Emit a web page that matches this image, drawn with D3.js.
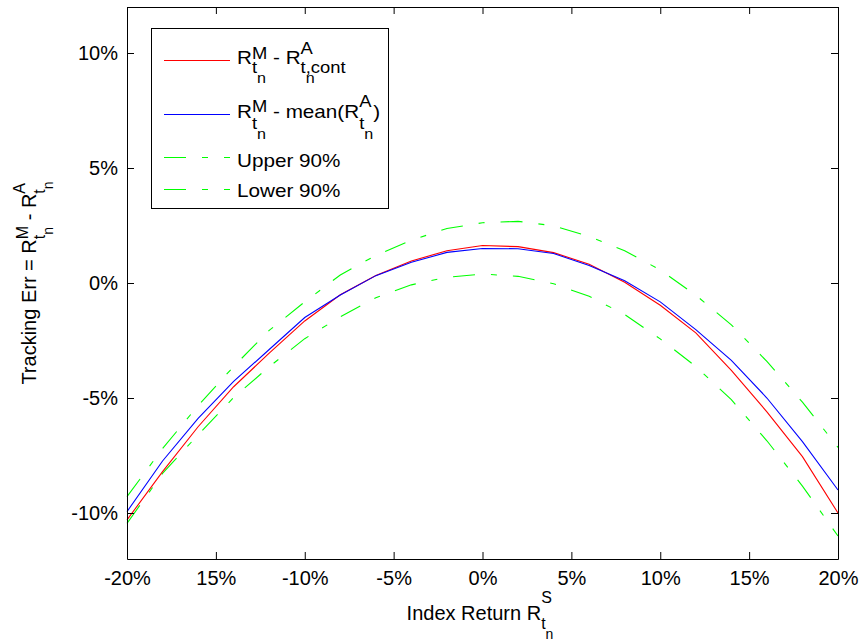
<!DOCTYPE html>
<html>
<head>
<meta charset="utf-8">
<script src="https://cdn.jsdelivr.net/npm/d3@7"></script>
<style>
  body { margin: 0; background: #fff; }
  svg { display: block; font-family: "Liberation Sans", Arial, sans-serif; }
  text { white-space: pre; }
</style>
</head>
<body>
<svg id="chart" width="859" height="640"></svg>
<script>
// values (percent)
var xVals = [-20, -18, -16, -14, -12, -10, -8, -6, -4, -2, 0, 2, 4, 6, 8, 10, 12, 14, 16, 18, 20];
var redVals = [-10.3, -8.2, -6.25, -4.51, -3.05, -1.65, -0.51, 0.33, 0.96, 1.40, 1.63, 1.58, 1.32, 0.82, 0.03, -0.97, -2.17, -3.8, -5.6, -7.55, -10.0];
var blueVals = [-9.94, -7.74, -5.89, -4.28, -2.89, -1.5, -0.52, 0.32, 0.9, 1.33, 1.5, 1.49, 1.28, 0.76, 0.1, -0.82, -2.03, -3.36, -5.0, -6.9, -9.0];
var upperVals = [-9.29, -7.2, -5.33, -3.63, -2.06, -0.82, 0.35, 1.2, 1.86, 2.37, 2.62, 2.68, 2.49, 2.02, 1.4, 0.57, -0.53, -1.82, -3.41, -5.18, -7.15];
var lowerVals = [-10.45, -8.28, -6.6, -4.98, -3.64, -2.42, -1.47, -0.64, -0.08, 0.25, 0.39, 0.29, -0.03, -0.58, -1.37, -2.43, -3.63, -5.07, -6.86, -8.83, -11.0];

var xTickVals = [-20, -15, -10, -5, 0, 5, 10, 15, 20];
var xTickLabels = ["-20%", "15%", "-10%", "-5%", "0%", "5%", "10%", "15%", "20%"];
var yTickVals = [-10, -5, 0, 5, 10];
var yTickLabels = ["-10%", "-5%", "0%", "5%", "10%"];

var svg = d3.select("#chart");
svg.append("rect").attr("width", 859).attr("height", 640).attr("fill", "#fff");

var plotLeft = 127, plotRight = 838, plotTop = 7, plotBottom = 559;
var x = d3.scaleLinear().domain([-20, 20]).range([plotLeft, plotRight]);
var y = d3.scaleLinear().domain([-12, 12]).range([plotBottom, plotTop]);

var dash = "22,16,6,16";

// text with sub/superscripts, pieces measured one after another
function richText(parent, pieces, base) {
    var grp = parent.append("g");
    var cx = 0, markX = 0, maxX = 0;
    pieces.forEach(function (p) {
        if (p.back) cx = markX;
        if (p.after) cx = maxX;
        if (p.mark) markX = cx;
        var el = grp.append("text")
            .attr("x", cx)
            .attr("y", p.dy || 0)
            .attr("xml:space", "preserve")
            .style("font-size", (p.size || base) + "px")
            .attr("fill", "#000")
            .text(p.t);
        var w = el.node().getComputedTextLength();
        maxX = Math.max(maxX, cx + w);
        if (!p.hold) cx += w;
    });
    grp.totalWidth = maxX;
    return grp;
}

//series
var line = d3.line()
    .x(function (d, i) { return x(xVals[i]); })
    .y(function (d) { return y(d); });

var series = [
    { vals: upperVals, color: "#00ff00", dash: dash },
    { vals: lowerVals, color: "#00ff00", dash: dash },
    { vals: redVals, color: "#ff0000", dash: null },
    { vals: blueVals, color: "#0000ff", dash: null }
];

svg.append("g").selectAll("path").data(series).enter().append("path")
    .attr("d", function (s) { return line(s.vals); })
    .attr("fill", "none")
    .attr("stroke", function (s) { return s.color; })
    .attr("stroke-width", 1.1)
    .attr("stroke-dasharray", function (s) { return s.dash; });

//axes, ticks pointing inward
function styleAxis(g) {
    g.attr("font-family", "Liberation Sans, Arial, sans-serif").attr("font-size", 20);
    g.selectAll("text").attr("fill", "#000");
    g.selectAll("line").attr("stroke", "#000");
    g.select(".domain").attr("stroke", "#000");
}

svg.append("g").attr("transform", "translate(0," + plotBottom + ")")
    .call(d3.axisBottom(x).tickValues(xTickVals)
        .tickFormat(function (d, i) { return xTickLabels[i]; })
        .tickSizeInner(-7).tickSizeOuter(0).tickPadding(12))
    .call(styleAxis);

svg.append("g").attr("transform", "translate(0," + plotTop + ")")
    .call(d3.axisTop(x).tickValues(xTickVals).tickFormat(function () { return ""; })
        .tickSizeInner(-7).tickSizeOuter(0))
    .call(styleAxis);

svg.append("g").attr("transform", "translate(" + plotLeft + ",0)")
    .call(d3.axisLeft(y).tickValues(yTickVals)
        .tickFormat(function (d, i) { return yTickLabels[i]; })
        .tickSizeInner(-7).tickSizeOuter(0).tickPadding(9))
    .call(styleAxis);

svg.append("g").attr("transform", "translate(" + plotRight + ",0)")
    .call(d3.axisRight(y).tickValues(yTickVals).tickFormat(function () { return ""; })
        .tickSizeInner(-7).tickSizeOuter(0))
    .call(styleAxis);

//axis labels
var xLab = svg.append("g");
var xInner = richText(xLab, [
    { t: "Index Return R" },
    { t: "S", size: 16, dy: -17, mark: true },
    { t: "t", size: 16, dy: 9, back: true },
    { t: "n", size: 14, dy: 19 }
], 20);
xInner.attr("transform", "translate(" + (480 - xInner.totalWidth / 2) + ",620)");

var yLab = svg.append("g").attr("transform", "translate(36,283) rotate(-90)");
var yInner = richText(yLab, [
    { t: "Tracking Err = R" },
    { t: "M", size: 16, dy: -8, mark: true },
    { t: "t", size: 16, dy: 9, back: true },
    { t: "n", size: 14, dy: 17 },
    { t: " - R", after: true },
    { t: "A", size: 16, dy: -11, mark: true },
    { t: "t", size: 16, dy: 9, back: true },
    { t: "n", size: 14, dy: 17 }
], 20);
yInner.attr("transform", "translate(" + (-yInner.totalWidth / 2) + ",0)");

//legend
var legend = svg.append("g");
legend.append("rect")
    .attr("x", 151.5).attr("y", 28.5)
    .attr("width", 237).attr("height", 180)
    .attr("fill", "#fff").attr("stroke", "#000").attr("stroke-width", 1);

var legendItems = [
    { color: "#ff0000", dash: null, lineY: 60.5, textY: 63.5, pieces: [
        { t: "R" }, { t: "M", size: 16, dy: -5, mark: true }, { t: "t", size: 16, dy: 9, back: true }, { t: "n", size: 14, dy: 20 },
        { t: " - R", after: true }, { t: "A", size: 16, dy: -10, mark: true }, { t: "t", size: 16, dy: 9, back: true },
        { t: "n", size: 14, dy: 20, hold: true }, { t: ",cont", size: 16, dy: 9 }
    ] },
    { color: "#0000ff", dash: null, lineY: 114.5, textY: 117.5, pieces: [
        { t: "R" }, { t: "M", size: 16, dy: -6, mark: true }, { t: "t", size: 16, dy: 11, back: true }, { t: "n", size: 14, dy: 22 },
        { t: " - mean(R", after: true }, { t: "A", size: 16, dy: -10.5, mark: true }, { t: "t", size: 16, dy: 11, back: true },
        { t: "n", size: 14, dy: 22 }, { t: ")", after: true }
    ] },
    { color: "#00ff00", dash: dash, lineY: 157.5, textY: 166.5, pieces: [{ t: "Upper 90%" }] },
    { color: "#00ff00", dash: dash, lineY: 189.5, textY: 196.5, pieces: [{ t: "Lower 90%" }] }
];

legendItems.forEach(function (item) {
    legend.append("line")
        .attr("x1", 164).attr("x2", 230)
        .attr("y1", item.lineY).attr("y2", item.lineY)
        .attr("stroke", item.color).attr("stroke-width", 1)
        .attr("stroke-dasharray", item.dash);
    var g = legend.append("g").attr("transform", "translate(237," + item.textY + ") scale(1.15,1)");
    richText(g, item.pieces, 18);
});
</script>
</body>
</html>
